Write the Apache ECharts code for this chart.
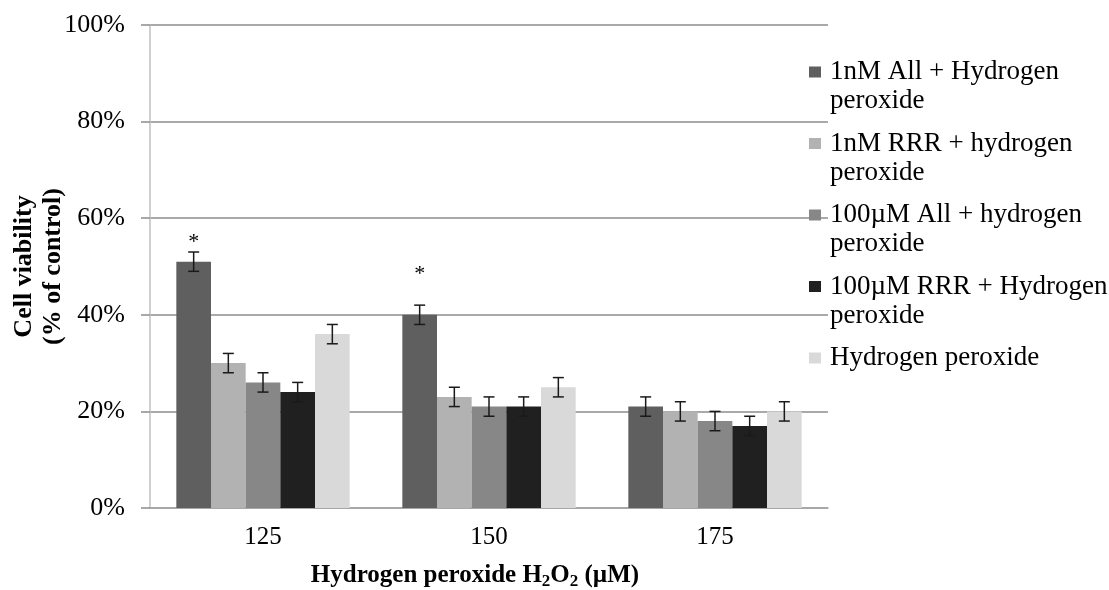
<!DOCTYPE html>
<html>
<head>
<meta charset="utf-8">
<script src="https://cdn.jsdelivr.net/npm/echarts@6/dist/echarts.min.js"></script>
<style>html,body{margin:0;padding:0;background:#fff}#c{width:1109px;height:590px}</style>
</head>
<body>
<div id="c"></div>
<script>
const categories = ['125', '150', '175'];
const seriesNames = [
  '1nM All + Hydrogen peroxide',
  '1nM RRR + hydrogen peroxide',
  '100µM All + hydrogen peroxide',
  '100µM RRR + Hydrogen peroxide',
  'Hydrogen peroxide'
];
const legendLines = [
  [' ', '1nM All + Hydrogen', 'peroxide'],
  [' ', '1nM RRR + hydrogen', 'peroxide'],
  [' ', '100µM All + hydrogen', 'peroxide'],
  [' ', '100µM RRR + Hydrogen', 'peroxide'],
  ['Hydrogen peroxide']
];
const all1nM = [51, 40, 21];
const rrr1nM = [30, 23, 20];
const all100uM = [26, 21, 18];
const rrr100uM = [24, 21, 17];
const h2o2Only = [36, 25, 20];
const err1 = [2, 2, 2];
const err2 = [2, 2, 2];
const err3 = [2, 2, 2];
const err4 = [2, 2, 2];
const err5 = [2, 2, 2];
const significant = [true, true, false];
const yTicks = [0, 20, 40, 60, 80, 100];

const values = [all1nM, rrr1nM, all100uM, rrr100uM, h2o2Only];
const errors = [err1, err2, err3, err4, err5];
const colors = ['#5f5f5f', '#b2b2b2', '#878787', '#202020', '#d9d9d9'];
const GAP = 0.233;
const FONT = 'Liberation Serif';

function errRender(idx) {
  return function (params, api) {
    const x = api.value(0), v = api.value(1), e = api.value(2);
    const c = api.coord([x, v]);
    const band = api.size([1, 0])[0];
    const bw = band * (1 - GAP) / 5;
    const cx = c[0] + (idx - 2) * bw;
    const top = api.coord([x, v + e])[1];
    const bot = api.coord([x, v - e])[1];
    const cap = 5.5;
    const st = { stroke: '#1a1a1a', lineWidth: 1.5 };
    return {
      type: 'group',
      children: [
        { type: 'line', shape: { x1: cx, y1: top, x2: cx, y2: bot }, style: st },
        { type: 'line', shape: { x1: cx - cap, y1: top, x2: cx + cap, y2: top }, style: st },
        { type: 'line', shape: { x1: cx - cap, y1: bot, x2: cx + cap, y2: bot }, style: st }
      ]
    };
  };
}

const starDist = [8, 30, 0];
const series = [];
values.forEach((vals, i) => {
  series.push({
    name: seriesNames[i],
    type: 'bar',
    barGap: '0%',
    barCategoryGap: (GAP * 100) + '%',
    itemStyle: { color: colors[i] },
    data: vals.map((v, k) => {
      if (i === 0 && significant[k]) {
        return {
          value: v,
          label: {
            show: true, position: 'top', distance: starDist[k], formatter: '*',
            fontFamily: FONT, fontSize: 22, color: '#000'
          }
        };
      }
      return v;
    })
  });
});
values.forEach((vals, i) => {
  series.push({
    name: seriesNames[i] + ' err',
    type: 'custom',
    renderItem: errRender(i),
    z: 10,
    silent: true,
    data: vals.map((v, k) => [k, v, errors[i][k]])
  });
});

const lineCenters = [72, 143.5, 215, 286.5, 358];
const legends = seriesNames.map((n, i) => ({
  data: [n],
  left: 809,
  top: i < 4 ? lineCenters[i] - 43.5 : lineCenters[i] - 14.5,
  padding: 0,
  itemWidth: 12,
  itemHeight: 11,
  itemGap: 0,
  icon: 'rect',
  selectedMode: false,
  formatter: () => legendLines[i].map(t => '{t|' + t + '}').join('\n'),
  textStyle: {
    fontFamily: FONT, fontSize: 27, lineHeight: 29, color: '#000',
    rich: { t: { fontFamily: FONT, fontSize: 27, lineHeight: 29, color: '#000', padding: [0, 0, 0, 4] } }
  }
}));

const chart = echarts.init(document.getElementById('c'), null, { renderer: 'canvas' });
chart.setOption({
  animation: false,
  backgroundColor: '#fff',
  textStyle: { fontFamily: FONT },
  grid: { left: 150, right: 281, top: 25, bottom: 82, containLabel: false, outerBoundsMode: 'none' },
  legend: legends,
  xAxis: {
    type: 'category',
    data: categories,
    axisLine: { lineStyle: { color: '#a6a6a6', width: 1.5 } },
    axisTick: { show: false },
    axisLabel: { fontFamily: FONT, fontSize: 25, color: '#000', margin: 17 },
    name: 'Hydrogen peroxide H{s|2}O{s|2} (µM)',
    nameLocation: 'middle',
    nameGap: 53,
    nameMoveOverlap: false,
    nameTextStyle: {
      fontFamily: FONT, fontSize: 25, fontWeight: 'bold', color: '#000', lineHeight: 29,
      padding: [0, 28, 0, 0],
      rich: { s: { fontFamily: FONT, fontSize: 17, fontWeight: 'bold', color: '#000', verticalAlign: 'bottom', lineHeight: 22, padding: [10, 0, 0, 0] } }
    }
  },
  yAxis: {
    type: 'value',
    min: yTicks[0],
    max: yTicks[yTicks.length - 1],
    interval: 20,
    axisLine: { show: true, lineStyle: { color: '#c0c0c0', width: 1.5 } },
    axisTick: { show: true, length: 9, lineStyle: { color: '#8c8c8c', width: 1.5 } },
    splitLine: { lineStyle: { color: '#8c8c8c', width: 1.5 } },
    axisLabel: { formatter: '{value}%', fontFamily: FONT, fontSize: 26, color: '#000', margin: 25 },
    name: 'Cell viability\n(% of control)',
    nameLocation: 'middle',
    nameGap: 82,
    nameMoveOverlap: false,
    nameTextStyle: { fontFamily: FONT, fontSize: 26, fontWeight: 'bold', color: '#000', lineHeight: 29 }
  },
  series: series
});
</script>
</body>
</html>
